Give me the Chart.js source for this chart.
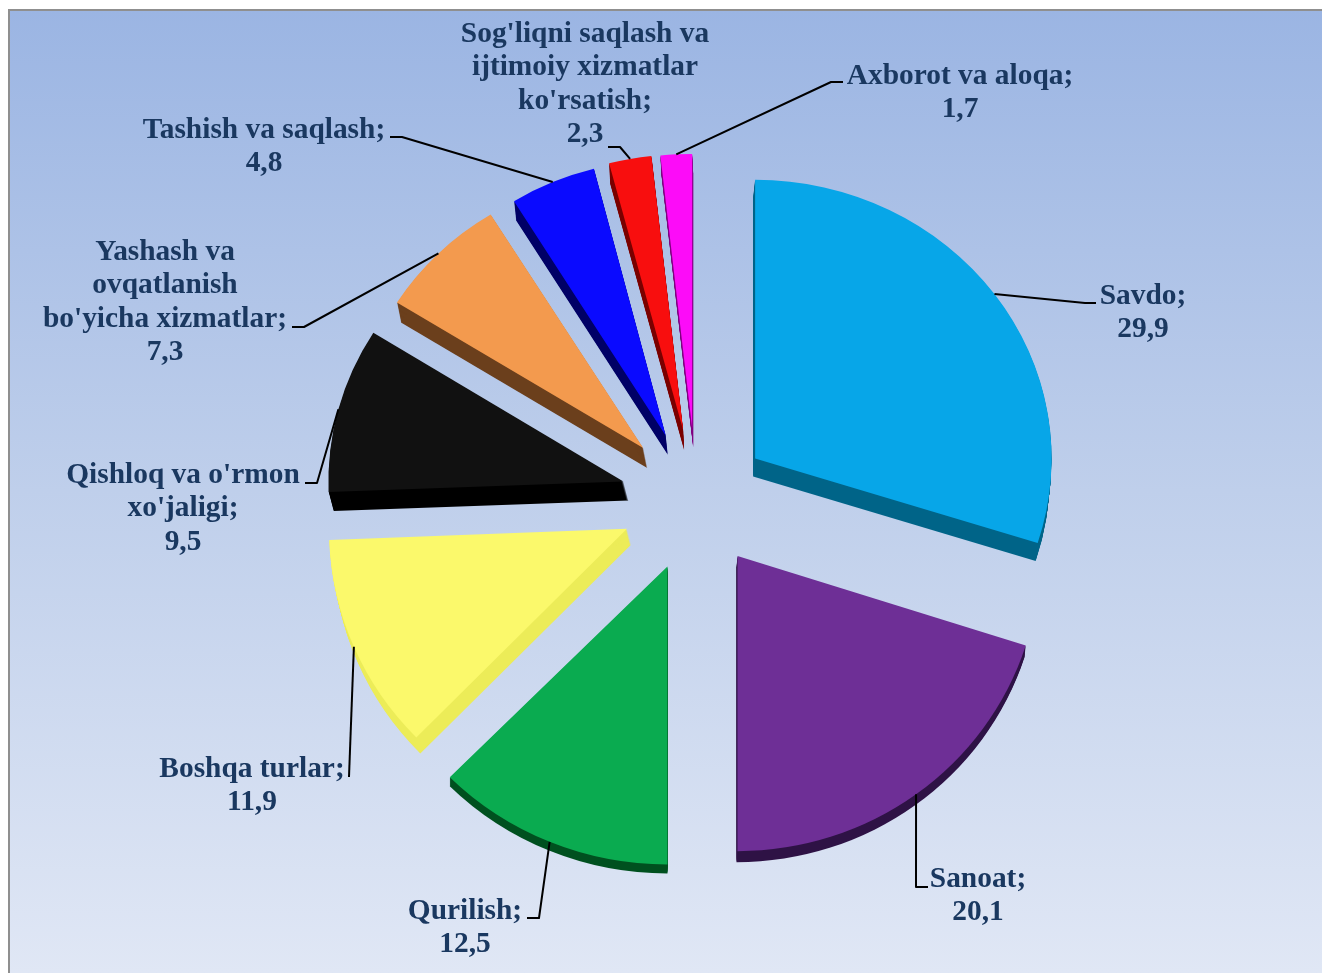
<!DOCTYPE html>
<html>
<head>
<meta charset="utf-8">
<title>Pie</title>
<script src="https://cdn.jsdelivr.net/npm/chart.js@4"></script>
<style>
  html, body { margin: 0; padding: 0; background: #fff; overflow: hidden; }
  canvas { display: block; }
</style>
</head>
<body>
<canvas id="pie" width="1322" height="973"></canvas>
<script>
// Data
const categories = [
  "Savdo",
  "Sanoat",
  "Qurilish",
  "Boshqa turlar",
  "Qishloq va o'rmon\nxo'jaligi",
  "Yashash va\novqatlanish\nbo'yicha xizmatlar",
  "Tashish va saqlash",
  "Sog'liqni saqlash va\nijtimoiy xizmatlar\nko'rsatish",
  "Axborot va aloqa"
];
const values = [29.9, 20.1, 12.5, 11.9, 9.5, 7.3, 4.8, 2.3, 1.7];

// Colours
const faceColors = ["#07a6e8", "#6e2f96", "#0aab50", "#fbf96b", "#111111", "#f39a4e", "#0a0aff", "#f80e0e", "#fc0cf8"];
const wallColors = ["#006488", "#2e1245", "#00501f", "#ecec58", "#000000", "#6b3f1c", "#000066", "#7a0000", "#800080"];

// Fake 3D: perspective is approximated per slice with a stretch and a small shift
const stretchX = [0.995, 1.015, 1.033, 1, 0.99, 0.975, 0.97, 1, 1];
const stretchY = [0.935, 0.99, 1, 0.99, 0.94, 0.92, 0.925, 0.925, 0.92];
const shiftX = [2, 0, 0, -2, -2, -1, -1, 1, 1];
const shiftY = [3, 0, 2, 2, 2, 1, 4, 3, 2];
const wallX = [-2, -1, 0, 4, 5, 4, 2, 1, 1];
const wallY = [18, 11, 9, 16, 19, 20, 19, 20, 19];
const explode = 72;

// Where each label sits (centre x, first baseline) and the leader line after the rim
const labelX = [1143, 978, 465, 252, 183, 165, 264, 585, 960];
const labelY = [304, 887, 919, 777, 483, 260, 138, 42, 84];
const leaders = [
  [[1085, 303], [1096, 303]],
  [[916, 887], [928, 887]],
  [[539, 918], [527, 918]],
  [[349, 777]],
  [[317, 483], [305, 483]],
  [[304, 327], [292, 327]],
  [[402, 137], [390, 137]],
  [[620, 147], [608, 147]],
  [[831, 82], [843, 82]]
];

const labelFont = "bold 29.4px 'Liberation Serif'";
const labelColor = "#1a3860";
const lineHeight = 33.4;

// Tip of a slice after it has been pulled out of the pie
function sliceApex(arc, i) {
  const mid = (arc.startAngle + arc.endAngle) / 2;
  return {
    x: arc.x + Math.cos(mid) * explode + shiftX[i],
    y: arc.y + Math.sin(mid) * explode + shiftY[i]
  };
}

// Moves the context onto the position and perspective of a slice
function sliceTransform(ctx, arc, i) {
  const apex = sliceApex(arc, i);
  ctx.translate(apex.x, apex.y);
  ctx.scale(stretchX[i], stretchY[i]);
  ctx.translate(-arc.x, -arc.y);
}

const backgroundPlugin = {
  id: "background",
  beforeDraw(chart) {
    const ctx = chart.ctx;
    const grad = ctx.createLinearGradient(0, 10, 0, 973);
    grad.addColorStop(0, "#9bb5e3");
    grad.addColorStop(0.5, "#bfcfeb");
    grad.addColorStop(1, "#e0e7f5");
    ctx.save();
    ctx.fillStyle = grad;
    ctx.fillRect(9, 10, 1313, 963);
    ctx.fillStyle = "#8f8f8f";
    ctx.fillRect(8, 9, 1314, 2);
    ctx.fillRect(8, 9, 2, 964);
    ctx.restore();
  }
};

const slicePlugin = {
  id: "slices3d",
  // Slices are drawn below, so skip the normal dataset draw
  beforeDatasetDraw() {
    return false;
  },
  afterDatasetsDraw(chart) {
    const ctx = chart.ctx;
    const arcs = chart.getDatasetMeta(0).data;

    arcs.forEach((arc, i) => {
      // Wall: same slice pushed down one pixel at a time
      ctx.save();
      ctx.fillStyle = wallColors[i];
      for (let d = 1; d <= wallY[i]; d++) {
        ctx.save();
        ctx.translate(wallX[i] * d / wallY[i], d);
        sliceTransform(ctx, arc, i);
        ctx.beginPath();
        ctx.moveTo(arc.x, arc.y);
        ctx.arc(arc.x, arc.y, arc.outerRadius, arc.startAngle, arc.endAngle);
        ctx.closePath();
        ctx.fill();
        ctx.restore();
      }
      ctx.restore();

      ctx.save();
      sliceTransform(ctx, arc, i);
      arc.draw(ctx);
      ctx.restore();
    });

    // Leader lines start on the rim at the middle of the slice
    ctx.save();
    ctx.strokeStyle = "#000";
    ctx.lineWidth = 2;
    ctx.lineJoin = "round";
    arcs.forEach((arc, i) => {
      const mid = (arc.startAngle + arc.endAngle) / 2;
      const apex = sliceApex(arc, i);
      const r = arc.outerRadius;
      ctx.beginPath();
      ctx.moveTo(apex.x + Math.cos(mid) * r * stretchX[i], apex.y + Math.sin(mid) * r * stretchY[i]);
      leaders[i].forEach((p) => ctx.lineTo(p[0], p[1]));
      ctx.stroke();
    });
    ctx.restore();

    // Labels
    ctx.save();
    ctx.font = labelFont;
    ctx.fillStyle = labelColor;
    ctx.textAlign = "center";
    ctx.textBaseline = "alphabetic";
    categories.forEach((name, i) => {
      const lines = (name + ";").split("\n");
      lines.push(String(values[i]).replace(".", ","));
      lines.forEach((line, n) => {
        ctx.fillText(line, labelX[i], labelY[i] + n * lineHeight);
      });
    });
    ctx.restore();
  }
};

new Chart(document.getElementById("pie"), {
  type: "pie",
  data: {
    labels: categories,
    datasets: [{
      data: values,
      backgroundColor: faceColors,
      borderWidth: 0,
      radius: 298
    }]
  },
  options: {
    responsive: false,
    animation: false,
    layout: { padding: { left: 68, top: 23 } },
    plugins: {
      legend: { display: false },
      tooltip: { enabled: false }
    }
  },
  plugins: [backgroundPlugin, slicePlugin]
});
</script>
</body>
</html>
